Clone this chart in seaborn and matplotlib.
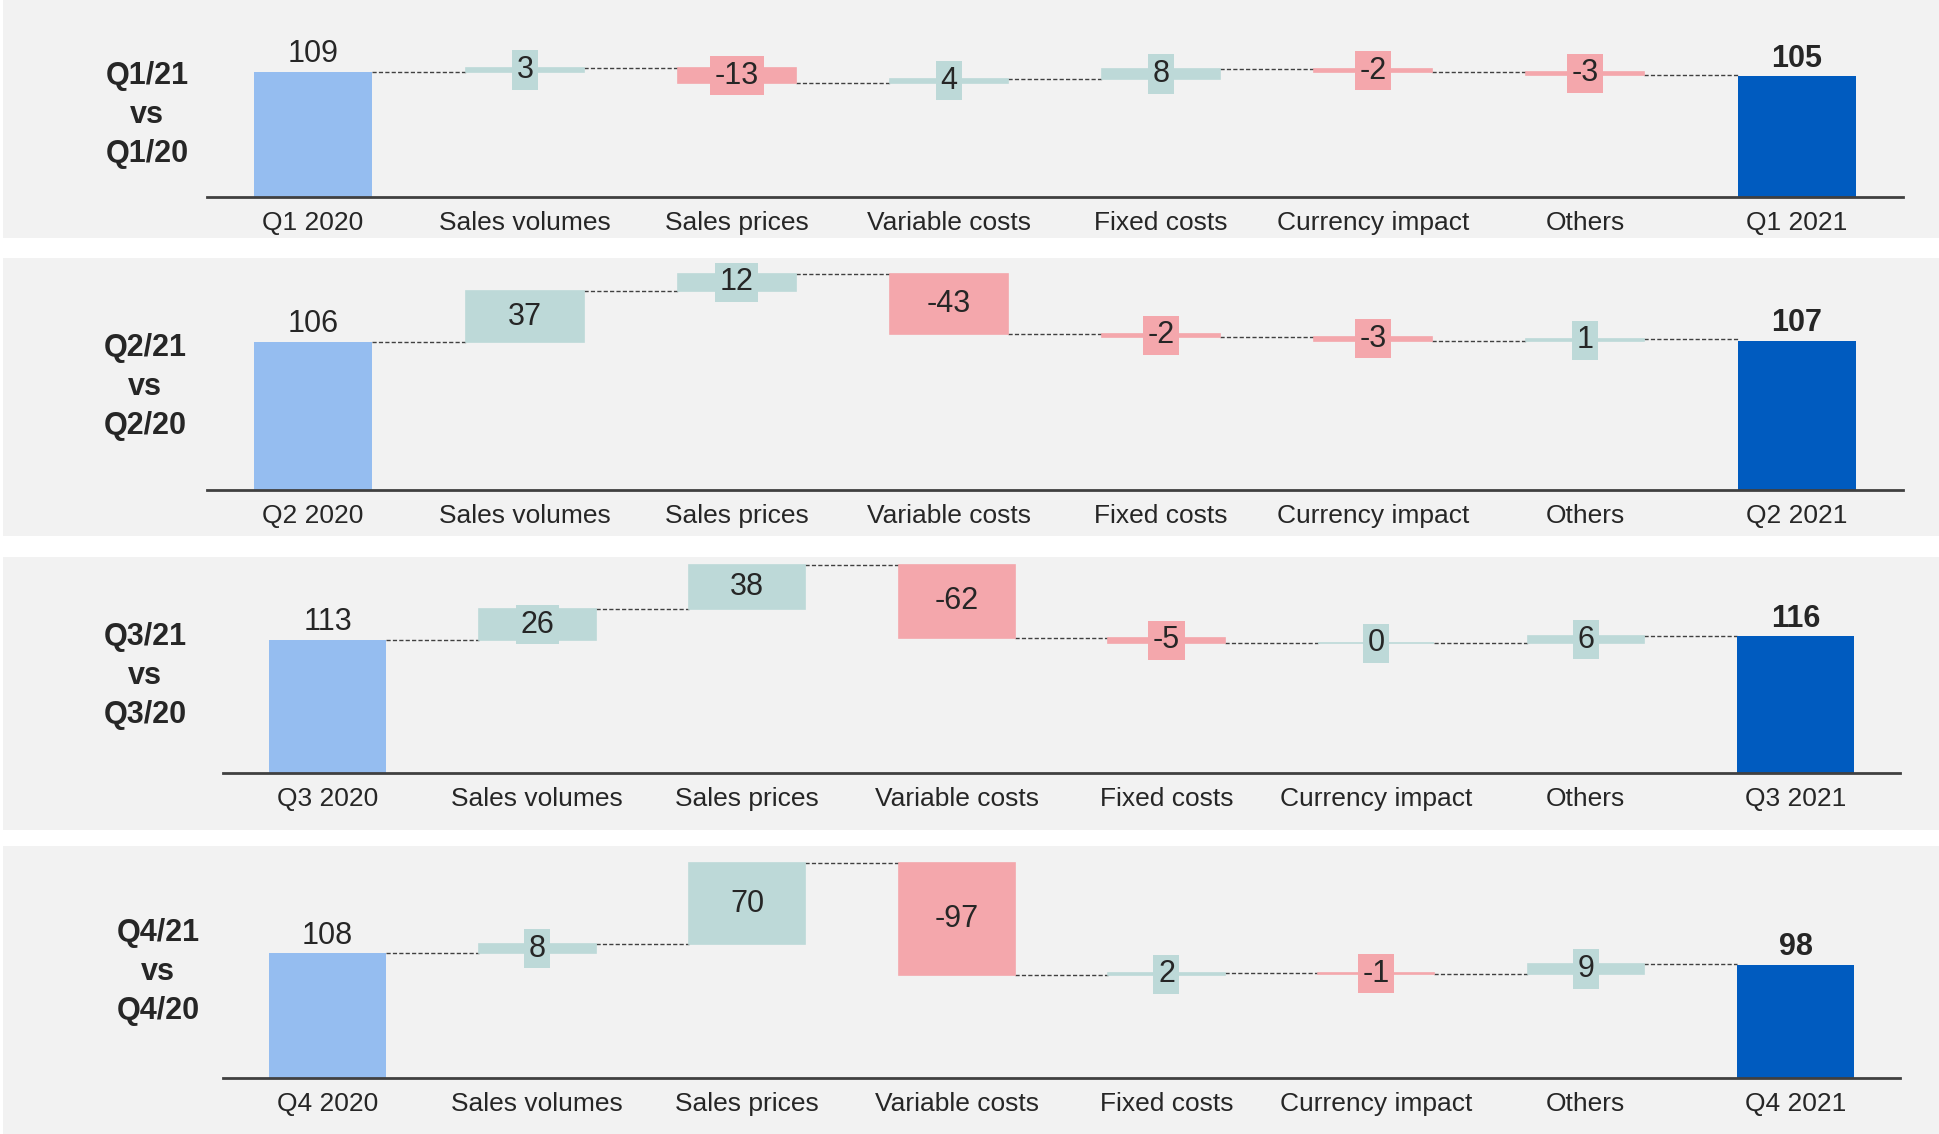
import matplotlib
matplotlib.use("Agg")
import matplotlib.pyplot as plt
import numpy as np
import pandas as pd
import seaborn as sns

# ---------------- data ----------------
driver_labels = ["Sales volumes", "Sales prices", "Variable costs",
                 "Fixed costs", "Currency impact", "Others"]
start_labels = ["Q1 2020", "Q2 2020", "Q3 2020", "Q4 2020"]
end_labels = ["Q1 2021", "Q2 2021", "Q3 2021", "Q4 2021"]
comparison_titles = ["Q1/21\nvs\nQ1/20", "Q2/21\nvs\nQ2/20",
                     "Q3/21\nvs\nQ3/20", "Q4/21\nvs\nQ4/20"]

start_values = [109, 106, 113, 108]
end_values = [105, 107, 116, 98]

q1_changes = [3, -13, 4, 8, -2, -3]
q2_changes = [37, 12, -43, -2, -3, 1]
q3_changes = [26, 38, -62, -5, 0, 6]
q4_changes = [8, 70, -97, 2, -1, 9]
quarter_changes = [q1_changes, q2_changes, q3_changes, q4_changes]

# ---------------- style ----------------
START_COLOR = "#95bdf0"
END_COLOR = "#005bbf"
UP_COLOR = "#bdd9d8"
DOWN_COLOR = "#f4a7ac"
PANEL_BG = "#f2f2f2"
TEXT_COLOR = "#262626"
LINE_COLOR = "#404040"
BAR_W = 0.555

W, H, DPI = 1939, 1134, 100

sns.set_theme(style="white")
plt.rcParams["font.family"] = ["Liberation Sans", "DejaVu Sans"]
plt.rcParams["text.color"] = TEXT_COLOR

# panel geometry in pixels and the value range shown in each panel
panels = [
    dict(top=0, bottom=238, ylim=(-36.1, 171.6), xlim=(-1.462, 7.670), title_xy=(147, 115)),
    dict(top=258, bottom=536, ylim=(-33.3, 166.6), xlim=(-1.462, 7.670), title_xy=(145, 387)),
    dict(top=557, bottom=830, ylim=(-48.5, 183.4), xlim=(-1.548, 7.684), title_xy=(145, 676)),
    dict(top=846, bottom=1134, ylim=(-48.2, 201.0), xlim=(-1.548, 7.684), title_xy=(158, 972)),
]
LEFT_PX = 3

fig = plt.figure(figsize=(W / DPI, H / DPI), dpi=DPI, facecolor="white")

for q, geo in enumerate(panels):
    rect = [LEFT_PX / W, 1 - geo["bottom"] / H, (W - LEFT_PX) / W,
            (geo["bottom"] - geo["top"]) / H]
    ax = fig.add_axes(rect)
    ax.set_facecolor(PANEL_BG)

    order = [start_labels[q]] + driver_labels + [end_labels[q]]
    changes = quarter_changes[q]

    # floating bar geometry of the waterfall
    rows = [dict(category=start_labels[q], bottom=0, height=start_values[q],
                 kind="start", value=start_values[q])]
    level = start_values[q]
    ends = [level]
    for name, d in zip(driver_labels, changes):
        bottom = level if d >= 0 else level + d
        rows.append(dict(category=name, bottom=bottom, height=abs(d),
                         kind="up" if d >= 0 else "down", value=d))
        level += d
        ends.append(level)
    rows.append(dict(category=end_labels[q], bottom=0, height=end_values[q],
                     kind="end", value=end_values[q]))
    df = pd.DataFrame(rows)

    colors = {"start": START_COLOR, "end": END_COLOR, "up": UP_COLOR, "down": DOWN_COLOR}
    for kind, col in colors.items():
        sub = df[df["kind"] == kind]
        if sub.empty:
            continue
        lw = 1.2 if kind in ("up", "down") else 0
        sns.barplot(data=sub, x="category", y="height", order=order,
                    bottom=sub["bottom"].to_numpy(), color=col, saturation=1,
                    width=BAR_W, errorbar=None, edgecolor=col, linewidth=lw,
                    ax=ax, zorder=2)

    # dashed connectors between consecutive bars
    for i, lv in enumerate(ends):
        ax.plot([i + BAR_W / 2, i + 1 - BAR_W / 2], [lv, lv], color=LINE_COLOR,
                lw=1.0, linestyle=(0, (3, 1.6)), zorder=1)

    # value labels
    ax.annotate(f"{start_values[q]}", (0, start_values[q]), xytext=(0, 2),
                textcoords="offset points", ha="center", va="bottom",
                fontsize=22, color=TEXT_COLOR)
    ax.annotate(f"{end_values[q]}", (len(order) - 1, end_values[q]), xytext=(0, 2),
                textcoords="offset points", ha="center", va="bottom",
                fontsize=22, fontweight="bold", color=TEXT_COLOR)
    for i, r in df.iterrows():
        if r["kind"] in ("up", "down"):
            ax.text(i, r["bottom"] + r["height"] / 2, f"{r['value']}",
                    ha="center", va="center", fontsize=22, color=TEXT_COLOR,
                    zorder=4,
                    bbox=dict(boxstyle="square,pad=0.15", fc=colors[r["kind"]],
                              ec="none"))

    # axes styling
    for side in ("top", "left", "right"):
        ax.spines[side].set_visible(False)
    ax.spines["bottom"].set_position(("data", 0))
    ax.spines["bottom"].set_bounds(-0.5, len(order) - 0.5)
    ax.spines["bottom"].set_color(LINE_COLOR)
    ax.spines["bottom"].set_linewidth(2.0)
    ax.spines["bottom"].set_zorder(3)
    ax.set_xticks(range(len(order)))
    ax.set_xticklabels(order)
    ax.tick_params(axis="x", length=0, pad=10, labelsize=19, labelcolor=TEXT_COLOR)
    ax.set_yticks([])
    ax.set_xlabel("")
    ax.set_ylabel("")
    ax.set_xlim(*geo["xlim"])
    ax.set_ylim(*geo["ylim"])

    tx, ty = geo["title_xy"]
    fig.text(tx / W, 1 - ty / H, comparison_titles[q], ha="center", va="center",
             multialignment="center", fontsize=22, fontweight="bold",
             linespacing=1.4, color=TEXT_COLOR)

fig.savefig("out.png", dpi=DPI, facecolor="white")
